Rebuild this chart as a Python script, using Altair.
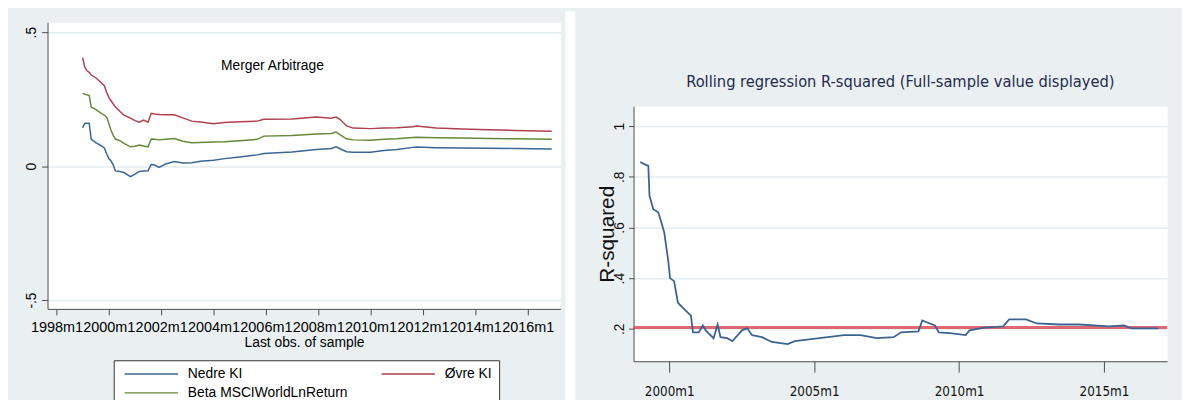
import altair as alt
import pandas as pd

# ---------------- left panel data ----------------
left_years = [1999.00, 1999.08, 1999.17, 1999.25, 1999.33, 1999.50, 1999.67, 1999.83, 1999.92,
              2000.00, 2000.08, 2000.17, 2000.25, 2000.42, 2000.58, 2000.83, 2001.00, 2001.17,
              2001.33, 2001.50, 2001.62, 2001.75, 2001.92, 2002.17, 2002.50, 2002.83, 2003.17,
              2003.50, 2004.00, 2004.42, 2005.00, 2005.67, 2005.92, 2007.00, 2007.92, 2008.50,
              2008.68, 2008.83, 2009.08, 2009.33, 2010.00, 2010.50, 2011.00, 2011.62, 2011.75,
              2012.50, 2013.50, 2014.50, 2015.50, 2016.92]
ovre = [0.405, 0.370, 0.356, 0.350, 0.340, 0.330, 0.315, 0.300, 0.275,
        0.257, 0.245, 0.232, 0.222, 0.205, 0.190, 0.179, 0.170, 0.164,
        0.172, 0.164, 0.197, 0.195, 0.193, 0.192, 0.192, 0.180, 0.168,
        0.165, 0.158, 0.163, 0.166, 0.168, 0.175, 0.176, 0.183, 0.179,
        0.183, 0.175, 0.150, 0.142, 0.140, 0.142, 0.143, 0.147, 0.150,
        0.142, 0.139, 0.136, 0.133, 0.130]
beta = [0.273, 0.268, 0.266, 0.264, 0.220, 0.212, 0.200, 0.190, 0.183,
        0.160, 0.135, 0.115, 0.101, 0.095, 0.085, 0.072, 0.074, 0.079,
        0.075, 0.072, 0.101, 0.100, 0.098, 0.100, 0.103, 0.093, 0.087,
        0.088, 0.090, 0.091, 0.095, 0.100, 0.112, 0.114, 0.120, 0.122,
        0.127, 0.118, 0.102, 0.098, 0.097, 0.100, 0.102, 0.107, 0.108,
        0.106, 0.105, 0.103, 0.102, 0.100]
nedre = [0.144, 0.159, 0.160, 0.160, 0.100, 0.088, 0.078, 0.068, 0.045,
         0.028, 0.020, 0.005, -0.018, -0.020, -0.024, -0.039, -0.030, -0.020,
         -0.018, -0.017, 0.006, 0.004, -0.005, 0.008, 0.017, 0.012, 0.013,
         0.018, 0.022, 0.028, 0.034, 0.042, 0.047, 0.053, 0.062, 0.066,
         0.072, 0.065, 0.054, 0.052, 0.052, 0.058, 0.062, 0.070, 0.071,
         0.069, 0.068, 0.067, 0.066, 0.064]
# legend fills column by column: col 1 = Nedre KI, Beta ...; col 2 = Øvre KI
series_names = ["Nedre KI", "Beta MSCIWorldLnReturn", "Øvre KI"]
series_colors = ["#3b6593", "#64893a", "#b0404e"]
left_x_ticks = [1998, 2000, 2002, 2004, 2006, 2008, 2010, 2012, 2014, 2016]
left_y_ticks = [-0.5, 0, 0.5]
annot_year = [2006.25]
annot_value = [0.375]
annot_text = ["Merger Arbitrage"]

# ---------------- right panel data ----------------
r2_years = [1999.00, 1999.20, 1999.28, 1999.32, 1999.45, 1999.62, 1999.73, 1999.83, 1999.97,
            2000.03, 2000.17, 2000.30, 2000.50, 2000.75, 2000.82, 2001.02, 2001.16, 2001.26,
            2001.53, 2001.67, 2001.77, 2002.00, 2002.18, 2002.51, 2002.69, 2002.86, 2003.20,
            2003.54, 2004.09, 2004.33, 2004.90, 2006.03, 2006.60, 2007.16, 2007.74, 2008.00,
            2008.60, 2008.73, 2008.90, 2009.17, 2009.30, 2009.68, 2010.23, 2010.36, 2010.88,
            2011.52, 2011.73, 2012.31, 2012.68, 2013.47, 2014.15, 2015.17, 2015.68, 2015.96,
            2016.88]
r2_values = [0.858, 0.847, 0.843, 0.726, 0.672, 0.660, 0.620, 0.580, 0.466,
             0.400, 0.388, 0.303, 0.280, 0.252, 0.186, 0.186, 0.213, 0.194,
             0.163, 0.217, 0.167, 0.163, 0.151, 0.194, 0.202, 0.175, 0.167,
             0.148, 0.140, 0.151, 0.159, 0.175, 0.175, 0.163, 0.167, 0.186,
             0.190, 0.233, 0.225, 0.213, 0.186, 0.183, 0.175, 0.194, 0.205,
             0.210, 0.237, 0.237, 0.221, 0.217, 0.217, 0.210, 0.213, 0.202,
             0.202]
full_sample_r2 = [0.205]
right_x_ticks = [2000, 2005, 2010, 2015]
right_y_ticks = [0.2, 0.4, 0.6, 0.8, 1.0]
right_title = "Rolling regression R-squared (Full-sample value displayed)"

BG = "#eaf0f2"
FONT = "Liberation Sans"
NARROW = "DejaVu Sans Condensed, Liberation Sans, sans-serif"
AXIS_COL = "#4a4a4a"
GRID_COL = "#e4ecef"

# ---------------- left chart ----------------
left_df = pd.DataFrame({
    "year": left_years * 3,
    "value": nedre + beta + ovre,
    "series": [n for n in series_names for _ in left_years],
})
annot_df = pd.DataFrame({"year": annot_year, "value": annot_value, "label": annot_text})

LW, LH = 519, 290
x_left = alt.X("year:Q",
               scale=alt.Scale(domain=[1997.66, 2017.25], nice=False, zero=False),
               axis=alt.Axis(values=left_x_ticks, labelExpr="datum.value + 'm1'",
                             title="Last obs. of sample", grid=False, tickSize=6,
                             labelPadding=5, titlePadding=1, labelOverlap=False,
                             labelFlush=False, labelFontSize=14.6, titleFontSize=14,
                             titleFontWeight="normal", labelColor="black",
                             titleColor="black", domainColor=AXIS_COL, tickColor=AXIS_COL))
y_left = alt.Y("value:Q",
               scale=alt.Scale(domain=[-0.533, 0.537], nice=False, zero=False),
               axis=alt.Axis(values=left_y_ticks,
                             labelExpr="datum.value > 0 ? '.5' : (datum.value < 0 ? '-.5' : '0')",
                             title=None, labelAngle=270, labelAlign="center",
                             labelBaseline="bottom", grid=True, gridColor=GRID_COL,
                             gridWidth=1.5, tickSize=6, labelPadding=3, labelFontSize=14,
                             labelColor="black", domainColor=AXIS_COL, tickColor=AXIS_COL))

lines = alt.Chart(left_df).mark_line(strokeWidth=1.5).encode(
    x=x_left, y=y_left,
    color=alt.Color("series:N",
                    scale=alt.Scale(domain=series_names, range=series_colors),
                    sort=series_names,
                    legend=alt.Legend(title=None, orient="none", legendX=67, legendY=342,
                                      columns=2, symbolType="M-1,0H17", symbolSize=36,
                                      symbolStrokeWidth=1.5, labelOffset=54,
                                      columnPadding=30, rowPadding=5, padding=7,
                                      strokeColor="#333333", fillColor="white",
                                      labelFontSize=14, labelColor="black", labelLimit=400)),
)
annot = alt.Chart(annot_df).mark_text(fontSize=14, color="black", baseline="middle").encode(
    x="year:Q", y="value:Q", text="label:N")
strip = alt.Chart(pd.DataFrame({"a": [0]})).mark_rect(color="white").encode(
    x=alt.value(LW + 5), x2=alt.value(LW + 15), y=alt.value(-11), y2=alt.value(LH + 110))

left_chart = alt.layer(strip, lines, annot).properties(width=LW, height=LH)

# ---------------- right chart ----------------
RW, RH = 540, 258
r2_df = pd.DataFrame({"year": r2_years, "r2": r2_values})
rule_df = pd.DataFrame({"r2": full_sample_r2})

x_right = alt.X("year:Q",
                scale=alt.Scale(domain=[1998.77, 2017.18], nice=False, zero=False),
                axis=alt.Axis(values=right_x_ticks, labelExpr="datum.value + 'm1'",
                              title=None, grid=False, tickSize=11, labelPadding=13,
                              labelFont=NARROW, labelFontSize=13.5, labelColor="#111111",
                              labelFlush=False, domainColor=AXIS_COL, tickColor=AXIS_COL))
y_right = alt.Y("r2:Q",
                scale=alt.Scale(domain=[0.072, 1.078], nice=False, zero=False),
                axis=alt.Axis(values=right_y_ticks,
                              labelExpr="datum.value > 0.99 ? '1' : '.' + round(datum.value * 10)",
                              title="R-squared", titleFontSize=21, titleFontWeight="normal",
                              titleColor="#111111", titlePadding=-5,
                              labelAngle=270, labelAlign="center", labelBaseline="bottom",
                              grid=True, gridColor=GRID_COL, gridWidth=1.5, tickSize=5,
                              labelPadding=2, labelFontSize=14, labelColor="#111111",
                              domainColor=AXIS_COL, tickColor=AXIS_COL))

r2_line = alt.Chart(r2_df).mark_line(color="#3d6491", strokeWidth=1.8).encode(x=x_right, y=y_right)
r2_rule = alt.Chart(rule_df).mark_rule(color="#d8424f", strokeWidth=3, opacity=0.8).encode(y=y_right)

right_chart = alt.layer(r2_rule, r2_line).properties(
    width=RW, height=RH,
    title=alt.TitleParams(text=right_title, font=NARROW, fontSize=16.5, fontWeight="normal",
                          color="#1f2b4d", anchor="middle", offset=16),
)

spacer = alt.Chart(pd.DataFrame({"a": [0]})).mark_text(text="").properties(
    width=RW, height=51, view=alt.ViewBackground(fill="transparent", stroke="transparent"))

right_col = alt.vconcat(spacer, right_chart, spacing=0)

chart = alt.hconcat(left_chart, right_col, spacing=20).configure(
    background=BG, font=FONT,
    padding={"left": 16, "top": 0, "right": 13, "bottom": 0},
).configure_view(fill="white", stroke="transparent")

chart.save("out.html", embed_options={"renderer": "svg", "actions": False})
